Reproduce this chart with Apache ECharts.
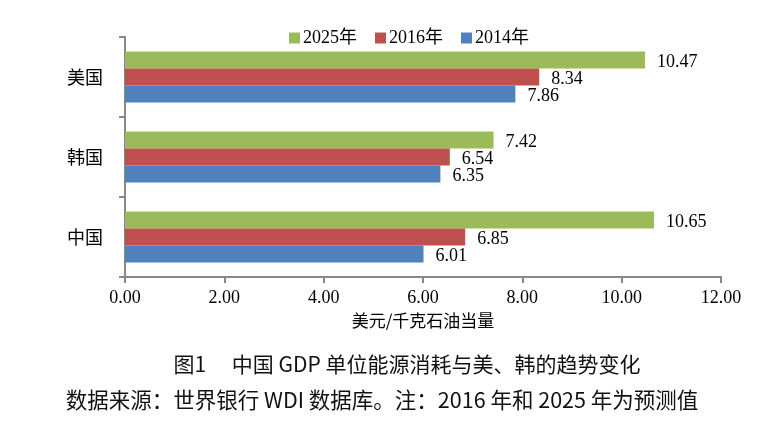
<!DOCTYPE html>
<html>
<head>
<meta charset="utf-8">
<script src="https://cdn.jsdelivr.net/npm/echarts@6/dist/echarts.min.js"></script>
<style>
html,body{margin:0;padding:0;background:#fff;}
#chart{width:762px;height:440px;}
</style>
</head>
<body>
<div id="chart"></div>
<script>
const categories = ['中国', '韩国', '美国'];
const seriesNames = ['2025年', '2016年', '2014年'];
const values2025 = [10.65, 7.42, 10.47];
const values2016 = [6.85, 6.54, 8.34];
const values2014 = [6.01, 6.35, 7.86];
const legendOrder = ['2025年', '2016年', '2014年'];
const xTicks = [0, 2, 4, 6, 8, 10, 12];
const axisName = '美元/千克石油当量';
const caption1 = '图1　 中国 GDP 单位能源消耗与美、韩的趋势变化';
const caption2 = '数据来源：世界银行 WDI 数据库。注：2016 年和 2025 年为预测值';

const colors = ['#9BBB59', '#C0504D', '#4F81BD'];
const serif = '"Liberation Serif", "Noto Sans CJK SC", serif';
const sans = '"Noto Sans CJK SC", sans-serif';
const seriesValues = [values2025, values2016, values2014];

const chart = echarts.init(document.getElementById('chart'));
chart.setOption({
  animation: false,
  backgroundColor: '#fff',
  legend: {
    data: legendOrder,
    left: 284,
    top: 24,
    icon: 'rect',
    itemWidth: 11,
    itemHeight: 11,
    itemGap: 18,
    textStyle: { fontFamily: serif, fontSize: 18, color: '#000', padding: [0, 0, 0, -2] }
  },
  grid: { left: 125, right: 41, top: 37, bottom: 163, containLabel: false },
  xAxis: {
    type: 'value',
    min: xTicks[0],
    max: xTicks[xTicks.length - 1],
    interval: 2,
    name: axisName,
    nameLocation: 'middle',
    nameGap: 35,
    nameTextStyle: { fontFamily: sans, fontSize: 17, color: '#000' },
    axisLine: { show: true, lineStyle: { color: '#888', width: 2 } },
    axisTick: { show: true, length: 6, lineStyle: { color: '#888', width: 2 } },
    splitLine: { show: false },
    axisLabel: {
      fontFamily: serif, fontSize: 18, color: '#000', margin: 12,
      formatter: v => v.toFixed(2)
    }
  },
  yAxis: {
    type: 'category',
    data: categories,
    axisLine: { show: true, lineStyle: { color: '#888', width: 2 } },
    axisTick: { show: true, length: 6, lineStyle: { color: '#888', width: 2 } },
    axisLabel: { fontFamily: sans, fontSize: 18, color: '#000', margin: 22 }
  },
  series: seriesNames.map((name, i) => ({
    name: name,
    type: 'bar',
    data: seriesValues[i],
    barGap: '0%',
    barCategoryGap: '36%',
    itemStyle: { color: colors[i] },
    label: {
      show: true,
      position: 'right',
      distance: 12,
      fontFamily: serif,
      fontSize: 18,
      color: '#000',
      offset: [0, 2],
      formatter: p => p.value.toFixed(2)
    }
  })),
  graphic: [
    { type: 'text', x: 407, y: 364, style: { text: caption1, font: '21px ' + sans, fill: '#111', textAlign: 'center', textVerticalAlign: 'middle' } },
    { type: 'text', x: 382, y: 400, style: { text: caption2, font: '21.5px ' + sans, fill: '#111', textAlign: 'center', textVerticalAlign: 'middle' } }
  ]
});
</script>
</body>
</html>
